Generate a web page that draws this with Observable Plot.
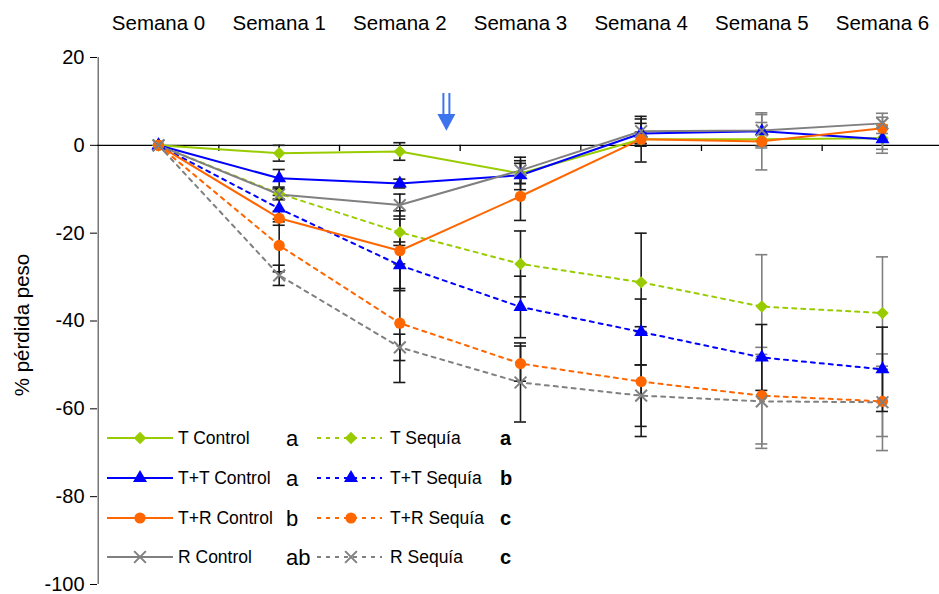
<!DOCTYPE html>
<html>
<head>
<meta charset="utf-8">
<script src="https://cdn.jsdelivr.net/npm/d3@7"></script>
<script src="https://cdn.jsdelivr.net/npm/@observablehq/plot@0.6"></script>
<style>
  body { margin: 0; background: #fff; font-family: "Liberation Sans", Arial, sans-serif; }
</style>
</head>
<body>
<div id="chart"></div>
<script>
// Weeks of the trial and their labels
const weeks = [0, 1, 2, 3, 4, 5, 6];
const weekLabels = ["Semana 0", "Semana 1", "Semana 2", "Semana 3", "Semana 4", "Semana 5", "Semana 6"];
const yTicks = [-100, -80, -60, -40, -20, 0, 20];
const yLabel = "% pérdida peso";

// Mean weight change (%) per week
const tControl   = [0, -1.8, -1.4, -6.4, 1.4, 1.4, 1.6];
const tSequia    = [0, -11.0, -19.8, -27.0, -31.2, -36.7, -38.2];
const ttControl  = [0, -7.5, -8.7, -6.8, 2.7, 3.2, 1.4];
const ttSequia   = [0, -14.4, -27.3, -36.8, -42.5, -48.3, -51.0];
const trControl  = [0, -16.6, -24.0, -11.6, 1.4, 0.9, 3.9];
const trSequia   = [0, -22.8, -40.5, -49.7, -53.8, -57.0, -58.3];
const rControl   = [0, -11.2, -13.6, -5.7, 3.2, 3.4, 5.0];
const rSequia    = [0, -29.6, -46.0, -54.0, -57.0, -58.3, -58.5];

// Standard error per week
const tControlErr  = [0, 1.8, 2.0, 2.3, 1.6, 2.0, 2.5];
const tSequiaErr   = [0, 1.2, 3.0, 7.5, 11.2, 11.8, 12.8];
const ttControlErr = [0, 2.0, 1.0, 3.3, 2.3, 2.0, 3.2];
const ttSequiaErr  = [0, 3.0, 5.3, 7.0, 7.5, 7.5, 9.6];
const trControlErr = [0, 1.6, 9.1, 5.5, 5.2, 6.5, 2.5];
const trSequiaErr  = [0, 6.0, 13.5, 4.0, 12.5, 11.0, 8.0];
const rControlErr  = [0, 1.2, 2.5, 3.0, 2.8, 3.6, 2.3];
const rSequiaErr   = [0, 2.3, 3.0, 9.0, 7.0, 10.7, 11.0];

// Series names, significance letters
const seriesNames = ["T Control", "T Sequía", "T+T Control", "T+T Sequía",
                     "T+R Control", "T+R Sequía", "R Control", "R Sequía"];
const letters = ["a", "a", "a", "b", "b", "c", "ab", "c"];

const values = [tControl, tSequia, ttControl, ttSequia, trControl, trSequia, rControl, rSequia];
const errors = [tControlErr, tSequiaErr, ttControlErr, ttSequiaErr, trControlErr, trSequiaErr, rControlErr, rSequiaErr];

// Appearance of each treatment group
const groupStyle = [
  {color: "#99cc00", symbol: "diamond2", r: 5.6},
  {color: "#0000ff", symbol: "triangle", r: 5.2},
  {color: "#ff6600", symbol: "circle",   r: 5.6},
  {color: "#808080", symbol: "times",    r: 5.4}
];
const styleOf = i => groupStyle[Math.floor(i / 2)];
const isDrought = i => i % 2 === 1;

const rows = seriesNames.flatMap((name, i) =>
  weeks.map(w => ({serie: name, idx: i, week: w, value: values[i][w], err: errors[i][w]})));
const errRows = rows.filter(d => d.err > 0);
// dark bars drawn on top of the grey ones
const errDark = errRows.filter(d => d.week <= 4 || d.serie === "T+T Sequía");
const errGrey = errRows.filter(d => !errDark.includes(d));

const bounds = weeks.slice(0, -1).map(w => w + 0.5);
const capHalf = 0.05;

function errMarks(data, stroke) {
  return [
    Plot.ruleX(data, {x: "week", y1: d => d.value - d.err, y2: d => d.value + d.err, stroke, strokeWidth: 1.6}),
    Plot.ruleY(data, {y: d => d.value - d.err, x1: d => d.week - capHalf, x2: d => d.week + capHalf, stroke, strokeWidth: 1.6}),
    Plot.ruleY(data, {y: d => d.value + d.err, x1: d => d.week - capHalf, x2: d => d.week + capHalf, stroke, strokeWidth: 1.6})
  ];
}

const lineMarks = seriesNames.map((name, i) =>
  Plot.line(rows.filter(d => d.idx === i), {
    x: "week", y: "value", stroke: styleOf(i).color, strokeWidth: 2,
    strokeDasharray: isDrought(i) ? "4,5" : null
  }));

const dotMarks = seriesNames.map((name, i) => {
  const s = styleOf(i);
  const filled = s.symbol !== "times";
  return Plot.dot(rows.filter(d => d.idx === i), {
    x: "week", y: "value", symbol: s.symbol, r: s.r,
    fill: filled ? s.color : "none", stroke: filled ? "none" : s.color, strokeWidth: 2
  });
});

const font = "'Liberation Sans', Arial, sans-serif";

const chart = Plot.plot({
  width: 939,
  height: 594,
  marginLeft: 97,
  marginRight: 0,
  marginTop: 57,
  marginBottom: 10,
  style: {fontFamily: font, background: "#fff", color: "#000", overflow: "visible"},
  x: {domain: [-0.5, 6.5], range: [97.7, 942.3]},
  y: {domain: [-100, 20]},
  marks: [
    Plot.axisX({anchor: "top", ticks: weeks, tickFormat: i => weekLabels[i], tickSize: 0,
                tickPadding: 28, fontSize: 20.5, label: null}),
    Plot.axisY({ticks: yTicks, tickFormat: d => String(d), tickSize: 7, tickPadding: 6,
                fontSize: 20, label: null}),
    Plot.ruleX([-0.5], {stroke: "#555", strokeWidth: 1.2}),
    Plot.ruleY([0], {stroke: "#000", strokeWidth: 1.3}),
    Plot.ruleX(bounds, {x: d => d, y1: 0, y2: -1.4, stroke: "#000", strokeWidth: 1.3}),
    Plot.text([yLabel], {frameAnchor: "left", textAnchor: "middle", rotate: -90, dx: -75, dy: 4, fontSize: 20.5}),
    ...errMarks(errGrey, "#808080"),
    ...errMarks(errDark, "#1a1a1a"),
    ...lineMarks,
    ...dotMarks
  ]
});

document.getElementById("chart").appendChild(chart);

// Annotation arrow and legend drawn on top of the plot
const svg = d3.select(chart);
const sx = chart.scale("x"), sy = chart.scale("y");

const ax = sx.apply(2.39);
const arrow = svg.append("g").attr("stroke", "#3d74ee").attr("fill", "#3d74ee");
[-3, 3].forEach(o => arrow.append("line")
  .attr("x1", ax + o).attr("x2", ax + o)
  .attr("y1", sy.apply(11.8)).attr("y2", sy.apply(6.6))
  .attr("stroke-width", 2));
arrow.append("path")
  .attr("stroke", "none")
  .attr("d", `M${ax - 9},${sy.apply(7.0)}L${ax + 9},${sy.apply(7.0)}L${ax},${sy.apply(3.2)}Z`);

const symbolOf = {
  diamond2: d3.symbolDiamond2, triangle: d3.symbolTriangle,
  circle: d3.symbolCircle, times: d3.symbolTimes
};
const legend = svg.append("g").attr("font-family", font).attr("text-anchor", "start");
const rowY = [438, 478, 518, 557];
const cols = [
  {x1: 107, x2: 173, mx: 140, tx: 178, lx: 286, bold: false, dash: null},
  {x1: 317, x2: 382, mx: 351, tx: 390, lx: 500, bold: true, dash: "4,5"}
];
seriesNames.forEach((name, i) => {
  const s = styleOf(i);
  const c = cols[i % 2];
  const y = rowY[Math.floor(i / 2)];
  legend.append("line")
    .attr("x1", c.x1).attr("x2", c.x2).attr("y1", y).attr("y2", y)
    .attr("stroke", s.color).attr("stroke-width", 2)
    .attr("stroke-dasharray", c.dash);
  const filled = s.symbol !== "times";
  legend.append("path")
    .attr("transform", `translate(${c.mx},${y})`)
    .attr("d", d3.symbol(symbolOf[s.symbol], Math.PI * s.r * s.r)())
    .attr("fill", filled ? s.color : "none")
    .attr("stroke", filled ? "none" : s.color)
    .attr("stroke-width", 2);
  legend.append("text")
    .attr("x", c.tx).attr("y", y).attr("dy", "0.35em")
    .attr("font-size", 17.5).text(name);
  legend.append("text")
    .attr("x", c.lx).attr("y", y).attr("dy", "0.35em")
    .attr("font-size", c.bold ? 20 : 22)
    .attr("font-weight", c.bold ? "bold" : "normal")
    .text(letters[i]);
});
</script>
</body>
</html>
